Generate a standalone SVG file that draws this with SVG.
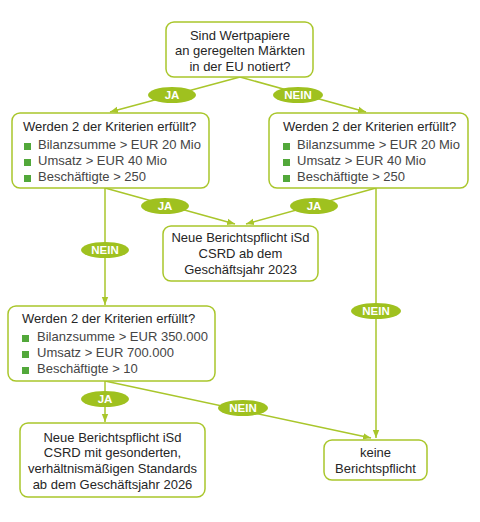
<svg xmlns="http://www.w3.org/2000/svg" width="480" height="522" viewBox="0 0 480 522">
<defs>
<style>
.box{fill:#fff;stroke:#a9c62b;stroke-width:1.5}
.ln{fill:none;stroke:#a9c62b;stroke-width:1.5}
.t{font-family:"Liberation Sans",Arial,sans-serif;font-size:13px;fill:#262626}
.g{fill:#454545}
.c{text-anchor:middle}
.lbl{fill:#9fc11f}
.lt{font-family:"Liberation Sans",Arial,sans-serif;font-size:11.5px;font-weight:bold;fill:#fff;text-anchor:middle}
.b{fill:#52a83a}
</style>
<marker id="ah" viewBox="0 0 8 8" refX="8" refY="4" markerWidth="8" markerHeight="8" markerUnits="userSpaceOnUse" orient="auto">
<path d="M0,0.8 L8,4 L0,7.2 Z" fill="#a9c62b"/>
</marker>
</defs>
<g id="connectors">
<line class="ln" x1="240" y1="77" x2="110" y2="112" marker-end="url(#ah)"/>
<line class="ln" x1="240" y1="77" x2="366" y2="112" marker-end="url(#ah)"/>
<line class="ln" x1="105" y1="188" x2="235" y2="224" marker-end="url(#ah)"/>
<line class="ln" x1="376" y1="188" x2="246" y2="224" marker-end="url(#ah)"/>
<line class="ln" x1="105" y1="188" x2="105" y2="305" marker-end="url(#ah)"/>
<line class="ln" x1="376" y1="188" x2="376" y2="438" marker-end="url(#ah)"/>
<line class="ln" x1="105" y1="381" x2="105" y2="422" marker-end="url(#ah)"/>
<line class="ln" x1="105" y1="381" x2="371" y2="438" marker-end="url(#ah)"/>
<g id="label-ja-1"><ellipse class="lbl" cx="172" cy="95" rx="24" ry="8"/><text class="lt" x="172" y="99">JA</text></g>
<g id="label-nein-1"><ellipse class="lbl" cx="298" cy="95" rx="25" ry="8"/><text class="lt" x="298" y="99">NEIN</text></g>
<g id="label-ja-2"><ellipse class="lbl" cx="165" cy="206" rx="24" ry="8"/><text class="lt" x="165" y="210">JA</text></g>
<g id="label-ja-3"><ellipse class="lbl" cx="314" cy="206" rx="24" ry="8"/><text class="lt" x="314" y="210">JA</text></g>
<g id="label-nein-2"><ellipse class="lbl" cx="105" cy="250" rx="24" ry="8"/><text class="lt" x="105" y="254">NEIN</text></g>
<g id="label-nein-3"><ellipse class="lbl" cx="376" cy="311" rx="25" ry="8"/><text class="lt" x="376" y="315">NEIN</text></g>
<g id="label-ja-4"><ellipse class="lbl" cx="105" cy="399" rx="24" ry="8"/><text class="lt" x="105" y="403">JA</text></g>
<g id="label-nein-4"><ellipse class="lbl" cx="243" cy="408" rx="25" ry="8"/><text class="lt" x="243" y="412">NEIN</text></g>
</g>
<g id="node-start">
<rect class="box" x="166" y="22" width="147" height="55" rx="8"/>
<text class="t c" x="240" y="40">Sind Wertpapiere</text>
<text class="t c" x="240" y="55">an geregelten Märkten</text>
<text class="t c" x="240" y="71">in der EU notiert?</text>
</g>
<g id="node-left">
<rect class="box" x="12" y="113" width="197" height="75" rx="8"/>
<text class="t" x="23" y="131">Werden 2 der Kriterien erfüllt?</text>
<rect class="b" x="24" y="143" width="7" height="7"/>
<rect class="b" x="24" y="159" width="7" height="7"/>
<rect class="b" x="24" y="175" width="7" height="7"/>
<text class="t g" x="38" y="149">Bilanzsumme &gt; EUR 20 Mio</text>
<text class="t g" x="38" y="165">Umsatz &gt; EUR 40 Mio</text>
<text class="t g" x="38" y="181">Beschäftigte &gt; 250</text>
</g>
<g id="node-right">
<rect class="box" x="269" y="113" width="199" height="75" rx="8"/>
<text class="t" x="283" y="131">Werden 2 der Kriterien erfüllt?</text>
<rect class="b" x="283" y="143" width="7" height="7"/>
<rect class="b" x="283" y="159" width="7" height="7"/>
<rect class="b" x="283" y="175" width="7" height="7"/>
<text class="t g" x="297" y="149">Bilanzsumme &gt; EUR 20 Mio</text>
<text class="t g" x="297" y="165">Umsatz &gt; EUR 40 Mio</text>
<text class="t g" x="297" y="181">Beschäftigte &gt; 250</text>
</g>
<g id="node-csrd2023">
<rect class="box" x="163" y="226" width="155" height="55" rx="8"/>
<text class="t c" x="240.5" y="242">Neue Berichtspflicht iSd</text>
<text class="t c" x="240.5" y="258">CSRD ab dem</text>
<text class="t c" x="240.5" y="274">Geschäftsjahr 2023</text>
</g>
<g id="node-lower">
<rect class="box" x="8" y="306" width="207" height="75" rx="8"/>
<text class="t" x="22" y="323">Werden 2 der Kriterien erfüllt?</text>
<rect class="b" x="22" y="335" width="7" height="7"/>
<rect class="b" x="22" y="351" width="7" height="7"/>
<rect class="b" x="22" y="367" width="7" height="7"/>
<text class="t g" x="37" y="341">Bilanzsumme &gt; EUR 350.000</text>
<text class="t g" x="37" y="357">Umsatz &gt; EUR 700.000</text>
<text class="t g" x="37" y="373">Beschäftigte &gt; 10</text>
</g>
<g id="node-csrd2026">
<rect class="box" x="20" y="423" width="185" height="74" rx="8"/>
<text class="t c" x="112.5" y="442">Neue Berichtspflicht iSd</text>
<text class="t c" x="112.5" y="457">CSRD mit gesonderten,</text>
<text class="t c" x="112.5" y="473">verhältnismäßigen Standards</text>
<text class="t c" x="112.5" y="489">ab dem Geschäftsjahr 2026</text>
</g>
<g id="node-keine">
<rect class="box" x="324" y="440" width="103" height="40" rx="8"/>
<text class="t c" x="375.5" y="457">keine</text>
<text class="t c" x="375.5" y="473">Berichtspflicht</text>
</g>
</svg>
